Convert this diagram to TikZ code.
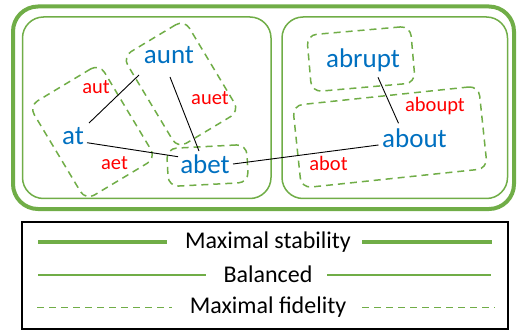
\documentclass[tikz,border=0pt]{standalone}
\usepackage{fontspec}
\setmainfont{Carlito}
\usetikzlibrary{calc}
\definecolor{offgreen}{HTML}{70AD47}
\definecolor{offblue}{HTML}{0070C0}
\definecolor{offred}{HTML}{FF0000}
\tikzset{
  stabline/.style={draw=offgreen, line width=4pt},
  balline/.style={draw=offgreen, line width=1.5pt},
  fidline/.style={draw=offgreen, line width=1.5pt, dash pattern=on 7pt off 5pt},
  fidbox/.style={fidline, rectangle, rounded corners=10pt, inner sep=0pt},
  word/.style={text=offblue, font=\fontsize{27}{27}\selectfont, anchor=base, inner sep=0pt},
  redlabel/.style={text=offred, font=\fontsize{20.5}{20.5}\selectfont, anchor=base, inner sep=0pt},
  legtext/.style={text=black, font=\fontsize{24}{24}\selectfont, anchor=base, inner sep=0pt},
  link/.style={draw=black, line width=0.9pt}
}
\begin{document}
\begin{tikzpicture}[x=1pt,y=-1pt]
\useasboundingbox (0,0) rectangle (519,331);
% outer and inner frames
\draw[stabline, rounded corners=25pt] (13,6.5) rectangle (514,209);
\draw[balline, rounded corners=21pt] (22.5,17) rectangle (271,198.5);
\draw[balline, rounded corners=21pt] (282,17) rectangle (507.5,198.5);
% dashed groups
\node[fidbox, minimum width=82pt, minimum height=110pt, rotate=31] (g1) at (92.5,132) {};
\node[fidbox, minimum width=72pt, minimum height=107pt, rotate=31] (g2) at (181,84) {};
\node[fidbox, minimum width=80pt, minimum height=38pt, rotate=3] (g3) at (207.5,165.5) {};
\node[fidbox, minimum width=104pt, minimum height=57pt, rotate=5] (g4) at (361,59) {};
\node[fidbox, minimum width=187pt, minimum height=83pt, rotate=6] (g5) at (390,137) {};
% words
\node[word] (aunt) at (169,64) {aunt};
\node[word] (at) at (73,145) {at};
\node[word] (abet) at (205,174) {abet};
\node[word] (abrupt) at (363,68) {abrupt};
\node[word] (about) at (414.5,148) {about};
% labels
\node[redlabel] (laut) at (96,93.3) {aut};
\node[redlabel] (lauet) at (210,105) {auet};
\node[redlabel] (laet) at (114.5,170) {aet};
\node[redlabel] (laboupt) at (435,111.7) {aboupt};
\node[redlabel] (labot) at (328.5,170.7) {abot};
% connectors
\draw[link] ($(aunt.base)+(-30,11)$) -- ($(at.base)+(16,-22)$);
\draw[link] ($(aunt.base)+(1,13)$) -- ($(abet.base)+(-6,-23)$);
\draw[link] ($(at.base)+(14,-2.3)$) -- ($(abet.base)+(-27,-17.3)$);
\draw[link] ($(abet.base)+(28,-10)$) -- ($(about.base)+(-36,-3)$);
\draw[link] ($(abrupt.base)+(15,9.3)$) -- ($(about.base)+(-16,-24.7)$);
% legend
\node[draw=black, line width=1.3pt, minimum width=486pt, minimum height=107pt, inner sep=0pt] (legend) at (265,275.5) {};
\node[legtext] (tstab) at (268,248.3) {Maximal stability};
\node[legtext] (tbal) at (268,282.7) {Balanced};
\node[legtext] (tfid) at (268,313.3) {Maximal fidelity};
\coordinate (s1) at (38,242.3); \coordinate (s2) at (167,242.3);
\coordinate (s3) at (362,242.3); \coordinate (s4) at (492,242.3);
\coordinate (b1) at (38,275); \coordinate (b2) at (206,275);
\coordinate (b3) at (327,275); \coordinate (b4) at (491,275);
\coordinate (f1) at (37,307.7); \coordinate (f2) at (172,307.7);
\coordinate (f3) at (362,307.7); \coordinate (f4) at (495,307.7);
\draw[stabline] (s1) -- (s2);
\draw[stabline] (s3) -- (s4);
\draw[balline] (b1) -- (b2);
\draw[balline] (b3) -- (b4);
\draw[fidline] (f1) -- (f2);
\draw[fidline] (f3) -- (f4);
\end{tikzpicture}
\end{document}
